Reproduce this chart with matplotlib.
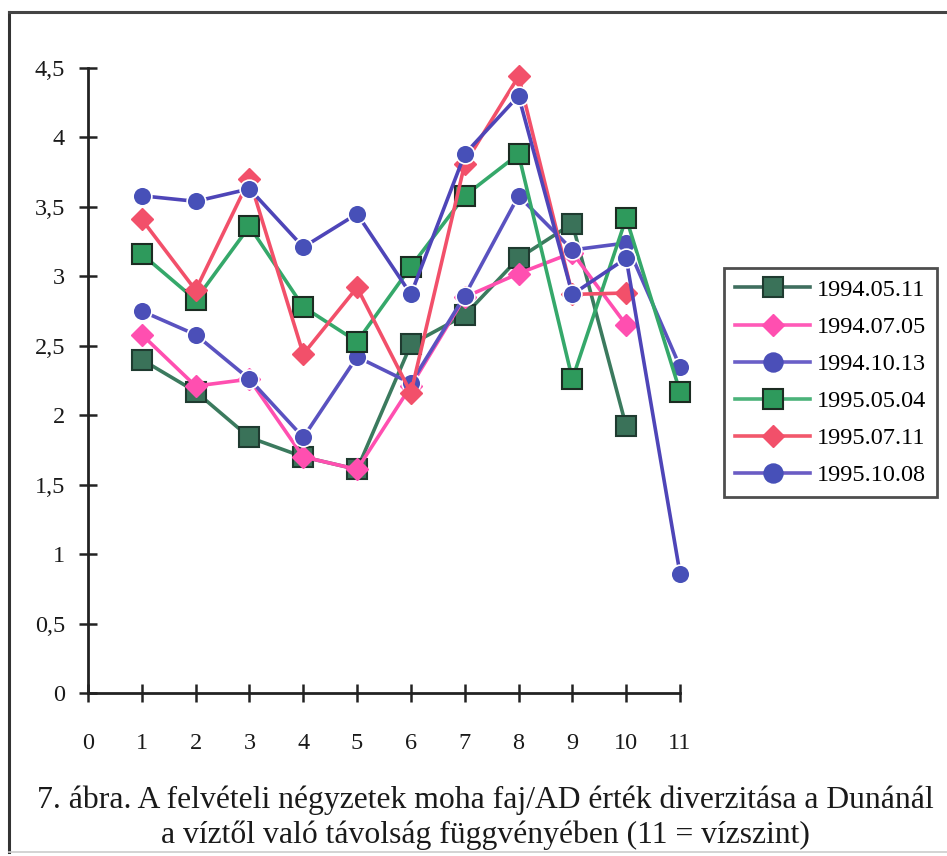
import matplotlib
matplotlib.use("Agg")
import matplotlib.pyplot as plt
from matplotlib.ticker import FuncFormatter
from matplotlib.lines import Line2D

plt.rcParams['font.family'] = ['Liberation Serif', 'DejaVu Serif']

# ---- data ----
x_pos = [1, 2, 3, 4, 5, 6, 7, 8, 9, 10, 11]
labels = ["1994.05.11", "1994.07.05", "1994.10.13", "1995.05.04", "1995.07.11", "1995.10.08"]
s_19940511 = [2.40, 2.17, 1.84, 1.70, 1.61, 2.51, 2.72, 3.13, 3.38, 1.92]
s_19940705 = [2.58, 2.21, 2.26, 1.70, 1.61, 2.21, 2.85, 3.02, 3.17, 2.65]
s_19941013 = [2.75, 2.58, 2.26, 1.84, 2.42, 2.23, 2.86, 3.58, 3.19, 3.24, 2.35]
s_19950504 = [3.16, 2.83, 3.36, 2.78, 2.53, 3.07, 3.58, 3.88, 2.26, 3.42, 2.17]
s_19950711 = [3.41, 2.90, 3.70, 2.44, 2.92, 2.16, 3.81, 4.44, 2.87, 2.88]
s_19951008 = [3.58, 3.54, 3.63, 3.21, 3.45, 2.87, 3.88, 4.30, 2.87, 3.13, 0.86]
x_ticks = list(range(0, 12))
y_ticks = [0, 0.5, 1, 1.5, 2, 2.5, 3, 3.5, 4, 4.5]
caption1 = "7. ábra. A felvételi négyzetek moha faj/AD érték diverzitása a Dunánál"
caption2 = "a víztől való távolság függvényében (11 = vízszint)"

series = [s_19940511, s_19940705, s_19941013, s_19950504, s_19950711, s_19951008]
styles = [
    dict(color="#3b7a5e", marker="s", ms=15, mfc="#3a7259", mec="#1f3b30", mew=1.5),
    dict(color="#ff4fb0", marker="D", ms=11, mfc="#ff4fb0", mec="#ff4fb0", mew=1),
    dict(color="#5a52c0", marker="o", ms=13.5, mfc="#4b4fb8", mec="white", mew=1.2),
    dict(color="#35a86a", marker="s", ms=15, mfc="#2e9a5c", mec="#1c2c22", mew=1.5),
    dict(color="#f2506a", marker="D", ms=11, mfc="#f2506a", mec="#f2506a", mew=1),
    dict(color="#4e45b8", marker="o", ms=13.5, mfc="#4750b8", mec="white", mew=1.2),
]
legend_line = ["#3f6e5e", "#ff5ab8", "#6a5fc8", "#4bb37a", "#f2586c", "#6a5cc4"]

W, H = 947, 856
fig = plt.figure(figsize=(W / 100, H / 100), dpi=100)
fig.patch.set_facecolor("white")

ax = fig.add_axes([88 / W, (H - 693) / H, (680 - 88) / W, (693 - 68) / H])
for vals, st in zip(series, styles):
    ax.plot(x_pos[:len(vals)], vals, lw=2.6, clip_on=False, **st)

ax.set_xlim(0, 11)
ax.set_ylim(0, 4.5)
for s in ["top", "right"]:
    ax.spines[s].set_visible(False)
for s in ["left", "bottom"]:
    ax.spines[s].set_linewidth(2.0)
    ax.spines[s].set_color("#222222")
ax.set_xticks(x_ticks)
ax.set_yticks(y_ticks)
ax.yaxis.set_major_formatter(FuncFormatter(lambda v, p: ("%g" % v).replace(".", ",")))
ax.tick_params(axis="both", direction="inout", length=13, width=1.8, color="#222222",
               labelsize=17.5, labelcolor="#1a1a1a")
ax.tick_params(axis="x", pad=22)
ax.tick_params(axis="y", pad=10)

handles = [Line2D([0], [0], color=lc, lw=2.6, marker=st["marker"], ms=st["ms"],
                  mfc=st["mfc"], mec=st["mec"] if st["mec"] != "white" else st["mfc"], mew=st["mew"])
           for lc, st in zip(legend_line, styles)]
leg = fig.legend(handles, labels, loc="upper left", bbox_to_anchor=(724 / W, 1 - 268 / H),
                 bbox_transform=fig.transFigure, fontsize=17.5, frameon=True, fancybox=False,
                 handlelength=3.1, handletextpad=0.25, labelspacing=0.62, borderpad=0.45,
                 borderaxespad=0)
leg.get_frame().set_edgecolor("#222222")
leg.get_frame().set_linewidth(2.0)

# outer frame
fig.add_artist(Line2D([9 / W, 9 / W], [1 - 12 / H, 1 - 852 / H], transform=fig.transFigure,
                      color="#333333", lw=2.2))
fig.add_artist(Line2D([9 / W, 1], [1 - 12 / H, 1 - 12 / H], transform=fig.transFigure,
                      color="#444444", lw=2.2))
fig.add_artist(Line2D([9 / W, 1], [1 - 852 / H, 1 - 852 / H], transform=fig.transFigure,
                      color="#cccccc", lw=1.2))

fig.text(485 / W, 1 - 808 / H, caption1, ha="center", va="baseline", fontsize=22.8, color="#1a1a1a")
fig.text(485 / W, 1 - 843 / H, caption2, ha="center", va="baseline", fontsize=22.8, color="#1a1a1a")

fig.savefig("out.png", dpi=100)
